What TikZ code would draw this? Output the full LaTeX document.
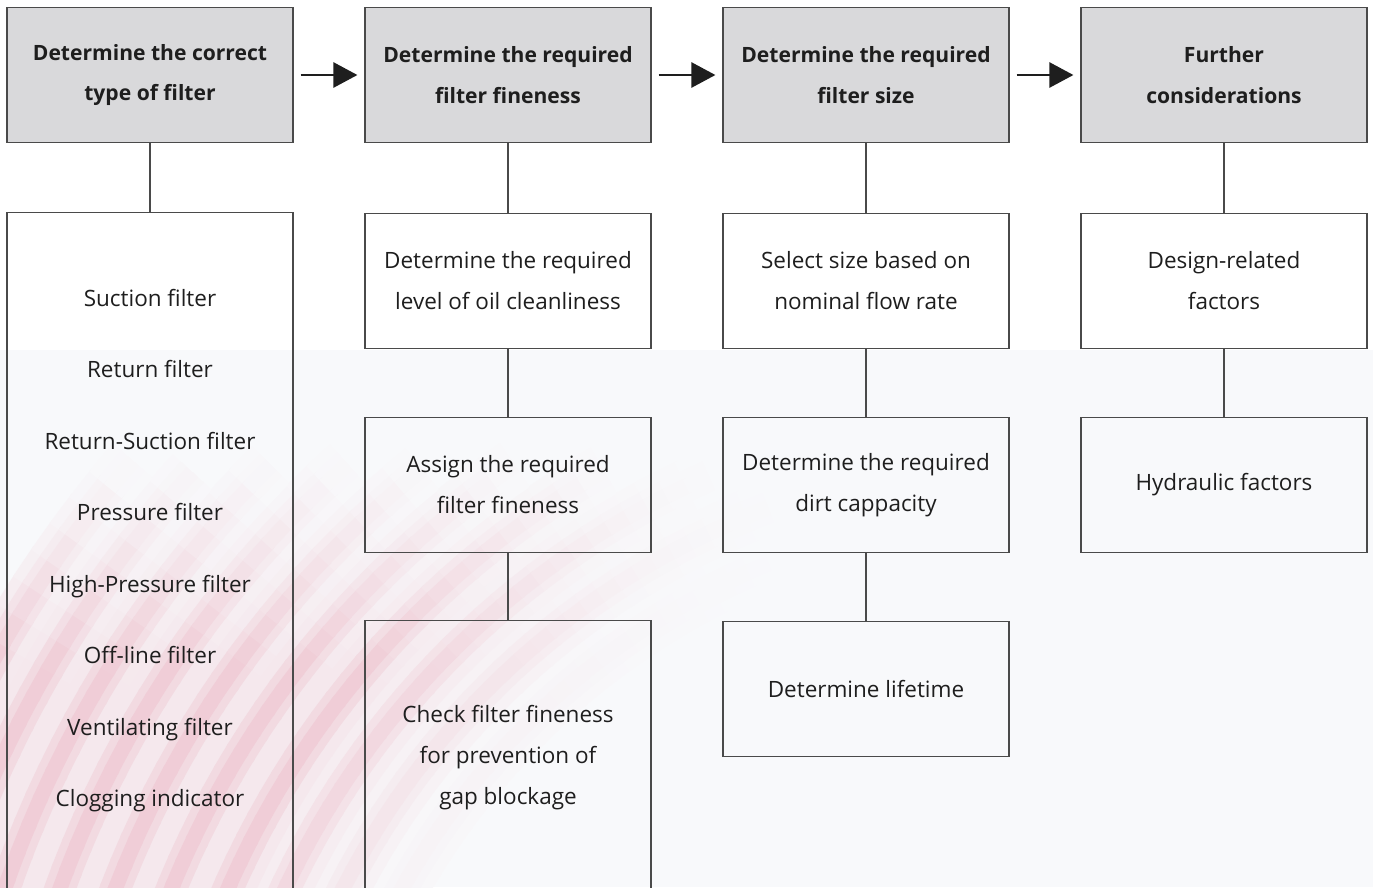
\documentclass[tikz,border=0pt]{standalone}
\usepackage{fontspec}
\setmainfont{Open Sans}
\usetikzlibrary{arrows.meta}
\definecolor{linec}{HTML}{4A4A4A}
\definecolor{headfill}{HTML}{D9D9DB}
\definecolor{bgc}{HTML}{F8F9FB}
\definecolor{swirl}{HTML}{E07890}
\definecolor{txt}{HTML}{1E1E1E}
\newcommand\swirllayer[2]{%
  \foreach \r in {742,794,...,1260}{
    \foreach \a in {-186,-184.5,...,-105}{
      \pgfmathsetmacro\xa{1050+\r*cos(\a+0.75)}
      \pgfmathsetmacro\ya{1250+\r*sin(\a+0.75)}
      \pgfmathsetmacro\op{max(0,min(1,(\ya-465)/200))*max(0,min(1,(800-\xa)/250))*max(0,min(1,(\r-720)/170))}
      \ifdim\op pt>0.01pt
        \pgfmathsetmacro\pc{#2*\op}
        \draw[color=swirl!\pc!bgc, line width=#1]
          ({1050+\r*cos(\a)},{1250+\r*sin(\a)}) arc[start angle=\a, delta angle=1.7, radius=\r];
      \fi
    }
  }%
}
\begin{document}
\begin{tikzpicture}[x=0.02cm,y=-0.02cm,
  box/.style={draw=linec, line width=0.7pt, minimum width=5.72cm, minimum height=2.7cm,
    inner sep=0pt, align=center, text=txt, font=\fontsize{12.8}{23.3}\selectfont},
  head/.style={box, fill=headfill, font=\fontsize{12}{23.3}\selectfont\bfseries},
  listtext/.style={align=center, inner sep=0pt, text=txt, font=\fontsize{12.8}{40.7}\selectfont},
  link/.style={draw=linec, line width=0.7pt},
  flow/.style={draw=txt, line width=1.5pt, -{Triangle[length=0.48cm,width=0.5cm]},
    shorten <=0.14cm, shorten >=0.14cm}]
\useasboundingbox (0,0) rectangle (1373,887);
\clip (0,0) rectangle (1373,887);
\fill[white] (0,0) rectangle (1373,350);
\fill[bgc] (0,350) rectangle (1373,887);
% soft pink swirl bands (opaque mixes, layered for a blurred look)
\swirllayer{1.06cm}{13}
\swirllayer{0.62cm}{24}
\swirllayer{0.30cm}{34}
% header row
\node[head] (h1) at (150,75) {Determine the correct\\type of filter};
\node[head] (h2) at (508,75) {Determine the required\\filter fineness};
\node[head] (h3) at (866,75) {Determine the required\\filter size};
\node[head] (h4) at (1224,75) {Further\\considerations};
\draw[flow] (h1) -- (h2);
\draw[flow] (h2) -- (h3);
\draw[flow] (h3) -- (h4);
% column 1
\node[box, anchor=north, minimum height=14cm] (types) at (150,212) {};
\node[listtext] (typelist) at (150,550.5) {Suction filter\\Return filter\\Return-Suction filter\\Pressure filter\\High-Pressure filter\\Off-line filter\\Ventilating filter\\Clogging indicator};
% column 2
\node[box] (b21) at (508,281) {Determine the required\\level of oil cleanliness};
\node[box] (b22) at (508,485) {Assign the required\\filter fineness};
\node[box, anchor=north, minimum height=6cm] (b23) at (508,620) {};
\node[listtext, font=\fontsize{12.8}{23.3}\selectfont] (b23text) at (508,757.5) {Check filter fineness\\for prevention of\\gap blockage};
% column 3
\node[box] (b31) at (866,281) {Select size based on\\nominal flow rate};
\node[box] (b32) at (866,485) {Determine the required\\dirt cappacity};
\node[box] (b33) at (866,689) {Determine lifetime};
% column 4
\node[box] (b41) at (1224,281) {Design-related\\factors};
\node[box] (b42) at (1224,485) {Hydraulic factors};
% connectors
\draw[link] (h1) -- (types);
\draw[link] (h2) -- (b21);
\draw[link] (b21) -- (b22);
\draw[link] (b22) -- (b23);
\draw[link] (h3) -- (b31);
\draw[link] (b31) -- (b32);
\draw[link] (b32) -- (b33);
\draw[link] (h4) -- (b41);
\draw[link] (b41) -- (b42);
\end{tikzpicture}
\end{document}
